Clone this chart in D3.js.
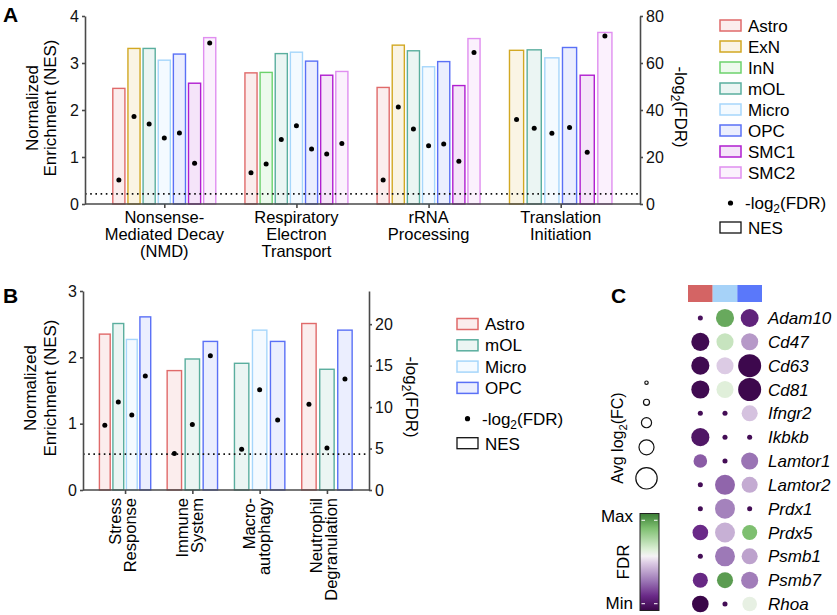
<!DOCTYPE html>
<html>
<head>
<meta charset="utf-8">
<script src="https://cdn.jsdelivr.net/npm/d3@7"></script>
<style>
  body { margin: 0; background: #fff; }
  svg { font-family: "Liberation Sans", Arial, sans-serif; }
  .axis path, .axis line { stroke: #4a4a4a; stroke-width: 1.6; }
  .axis text { font-size: 16px; fill: #111; }
</style>
</head>
<body>
<svg id="fig" width="837" height="615"></svg>
<script>
// ---- data: panel A ----
var cellsA = ["Astro", "ExN", "InN", "mOL", "Micro", "OPC", "SMC1", "SMC2"];
var pathwaysA = ["NMD", "Respiratory", "rRNA", "Translation"];
var labelsA = [["Nonsense-", "Mediated Decay", "(NMD)"], ["Respiratory", "Electron", "Transport"],
               ["rRNA", "Processing"], ["Translation", "Initiation"]];
var nmdCells = ["Astro", "ExN", "mOL", "Micro", "OPC", "SMC1", "SMC2"];
var nmdNES = [2.46, 3.31, 3.31, 3.06, 3.19, 2.57, 3.54];
var nmdFDR = [10.2, 37.2, 34.0, 28.1, 30.2, 17.3, 68.5];
var respCells = ["Astro", "InN", "mOL", "Micro", "OPC", "SMC1", "SMC2"];
var respNES = [2.79, 2.80, 3.20, 3.23, 3.04, 2.74, 2.82];
var respFDR = [13.3, 17.0, 27.5, 33.3, 23.4, 21.3, 25.7];
var rrnaCells = ["Astro", "ExN", "mOL", "Micro", "OPC", "SMC1", "SMC2"];
var rrnaNES = [2.48, 3.38, 3.26, 2.92, 3.03, 2.52, 3.52];
var rrnaFDR = [10.2, 41.3, 31.9, 24.8, 25.5, 18.2, 64.5];
var transCells = ["ExN", "mOL", "Micro", "OPC", "SMC1", "SMC2"];
var transNES = [3.27, 3.28, 3.11, 3.33, 2.74, 3.65];
var transFDR = [36.0, 32.2, 30.1, 32.6, 22.0, 71.5];
var ticksAL = [0, 1, 2, 3, 4], ticksAR = [0, 20, 40, 60, 80];

// ---- data: panel B ----
var cellsB = ["Astro", "mOL", "Micro", "OPC"];
var pathwaysB = ["Stress", "Immune", "Macro", "Neutrophil"];
var labelsB = [["Stress", "Response"], ["Immune", "System"], ["Macro-", "autophagy"], ["Neutrophil", "Degranulation"]];
var stressCells = ["Astro", "mOL", "Micro", "OPC"], stressNES = [2.35, 2.51, 2.27, 2.61], stressFDR = [7.8, 10.6, 9.05, 13.75];
var immuneCells = ["Astro", "mOL", "OPC"], immuneNES = [1.80, 1.975, 2.24], immuneFDR = [4.4, 7.9, 16.2];
var macroCells = ["mOL", "Micro", "OPC"], macroNES = [1.91, 2.41, 2.24], macroFDR = [4.9, 12.1, 8.45];
var neutroCells = ["Astro", "mOL", "OPC"], neutroNES = [2.51, 1.82, 2.41], neutroFDR = [10.35, 5.08, 13.4];
var ticksBL = [0, 1, 2, 3], ticksBR = [0, 5, 10, 15, 20];

// ---- data: panel C ----
var groupsC = ["Astro", "Micro", "OPC"];
var genesC = ["Adam10", "Cd47", "Cd63", "Cd81", "Ifngr2", "Ikbkb", "Lamtor1", "Lamtor2", "Prdx1", "Prdx5", "Psmb1", "Psmb7", "Rhoa"];
// avg log2(FC) (relative size) per gene: Astro, Micro, OPC
var fcC = [[0.10, 0.74, 0.73], [0.74, 0.69, 0.69], [0.74, 0.69, 0.98], [0.74, 0.69, 0.98], [0.10, 0.10, 0.64],
           [0.74, 0.10, 0.10], [0.52, 0.10, 0.69], [0.10, 0.83, 0.64], [0.10, 0.83, 0.10], [0.62, 0.83, 0.59],
           [0.10, 0.83, 0.64], [0.59, 0.64, 0.69], [0.67, 0.10, 0.57]];
// FDR (relative, 0 = min, 1 = max)
var fdrC = [[0.05, 0.90, 0.12], [0.02, 0.68, 0.38], [0.02, 0.49, 0.01], [0.02, 0.62, 0.01], [0.03, 0.03, 0.47],
            [0.07, 0.03, 0.03], [0.25, 0.03, 0.30], [0.03, 0.27, 0.42], [0.03, 0.33, 0.03], [0.15, 0.43, 0.85],
            [0.03, 0.31, 0.40], [0.14, 0.93, 0.32], [0.00, 0.03, 0.60]];
var sizeLegend = [0.02, 0.15, 0.35, 0.59, 0.90];

var colors = {Astro: "#e06a6a", ExN: "#d2a823", InN: "#6cd26c", mOL: "#5aae9e", Micro: "#a6d6fb",
              OPC: "#5a70f6", SMC1: "#b01ed0", SMC2: "#e08ef0"};
var groupColorsC = {Astro: "#d46464", Micro: "#a6d2f8", OPC: "#5a78fa"};

var svg = d3.select("#fig");
var fdrCut = -Math.log2(0.05);

function subLog(sel) {
  sel.append("tspan").text("-log");
  sel.append("tspan").attr("font-size", "0.7em").attr("dy", 4).text("2");
  sel.append("tspan").attr("dy", -4).text("(FDR)");
}

function barPanel(c) {
  var g = svg.append("g");
  var x = d3.scalePoint().domain(c.pathways).range([c.x0, c.x1]).padding(c.pad);
  var yL = d3.scaleLinear().domain([0, c.leftMax]).range([c.y0, c.y1]);
  var yR = d3.scaleLinear().domain([0, c.rightMax]).range([c.y0, c.y1]);

  c.sets.forEach(function(s, i) {
    var inner = d3.scaleBand().domain(s.cells).range([-c.gw / 2, c.gw / 2]).paddingInner(0.2).paddingOuter(0.1);
    var rows = s.cells.map(function(k, j) { return {cell: k, nes: s.nes[j], fdr: s.fdr[j]}; });
    var gg = g.append("g").attr("transform", "translate(" + x(c.pathways[i]) + ",0)");
    gg.selectAll("rect").data(rows).join("rect")
      .attr("x", d => inner(d.cell)).attr("width", inner.bandwidth())
      .attr("y", d => yL(d.nes)).attr("height", d => yL(0) - yL(d.nes))
      .attr("fill", d => colors[d.cell]).attr("fill-opacity", 0.12)
      .attr("stroke", d => colors[d.cell]).attr("stroke-width", 1.4);
    s.g = gg; s.rows = rows; s.inner = inner;
  });

  g.append("line").attr("x1", c.x0).attr("x2", c.x1).attr("y1", yR(fdrCut)).attr("y2", yR(fdrCut))
    .attr("stroke", "#111").attr("stroke-width", 1.6).attr("stroke-dasharray", "1.6,3.6");

  c.sets.forEach(function(s) {
    s.g.selectAll("circle").data(s.rows).join("circle")
      .attr("cx", d => s.inner(d.cell) + s.inner.bandwidth() / 2).attr("cy", d => yR(d.fdr))
      .attr("r", 2.5).attr("fill", "#000");
  });

  g.append("g").attr("class", "axis").attr("transform", "translate(" + c.x0 + ",0)")
    .call(d3.axisLeft(yL).tickValues(c.ticksL).tickFormat(d3.format("d")).tickSize(3).tickSizeOuter(0).tickPadding(3));
  g.append("g").attr("class", "axis").attr("transform", "translate(" + c.x1 + ",0)")
    .call(d3.axisRight(yR).tickValues(c.ticksR).tickFormat(d3.format("d")).tickSize(3).tickSizeOuter(0).tickPadding(3));
  g.append("g").attr("class", "axis").attr("transform", "translate(0," + c.y0 + ")")
    .call(d3.axisBottom(x).tickSize(4).tickSizeOuter(0).tickFormat(""))
    .select(".domain").attr("d", "M" + c.x0 + ",0H" + c.x1);

  // category labels
  c.labels.forEach(function(lines, i) {
    var cx = x(c.pathways[i]);
    var t;
    if (c.rotate) {
      t = g.append("text").attr("transform", "translate(" + cx + "," + (c.y0 + 8) + ") rotate(-90)")
        .attr("text-anchor", "end").attr("font-size", 16.5);
      lines.forEach(function(l, k) { t.append("tspan").attr("x", 0).attr("y", -4.5 + k * 15).text(l); });
    } else {
      t = g.append("text").attr("text-anchor", "middle").attr("font-size", 16.5);
      lines.forEach(function(l, k) { t.append("tspan").attr("x", cx).attr("y", c.y0 + 19 + k * 17).text(l); });
    }
  });

  // axis titles
  var tl = g.append("text").attr("text-anchor", "middle").attr("font-size", 17)
    .attr("transform", "translate(0," + c.titleY + ") rotate(-90)");
  tl.append("tspan").attr("x", 0).attr("y", c.titleLX[0]).text("Normalized");
  tl.append("tspan").attr("x", 0).attr("y", c.titleLX[1]).text("Enrichment (NES)");
  var tr = g.append("text").attr("text-anchor", "middle").attr("font-size", 17)
    .attr("transform", "translate(" + c.titleRX + "," + c.titleRY + ") rotate(90)");
  subLog(tr);

  // legend
  var lg = g.append("g").attr("transform", "translate(" + c.legX + "," + c.legY + ")");
  c.legCells.forEach(function(k, i) {
    lg.append("rect").attr("x", 0).attr("y", i * c.legStep).attr("width", 21).attr("height", 11)
      .attr("fill", colors[k]).attr("fill-opacity", 0.12).attr("stroke", colors[k]).attr("stroke-width", 1.5);
    lg.append("text").attr("x", 28).attr("y", i * c.legStep + 11.5).attr("font-size", 17).text(k);
  });
  var dy = c.legCells.length * c.legStep + 15;
  lg.append("circle").attr("cx", 10.5).attr("cy", dy).attr("r", 2.6).attr("fill", "#000");
  subLog(lg.append("text").attr("x", 25).attr("y", dy + 6).attr("font-size", 17));
  lg.append("rect").attr("x", 0).attr("y", dy + 19).attr("width", 21).attr("height", 11)
    .attr("fill", "none").attr("stroke", "#111").attr("stroke-width", 1.3);
  lg.append("text").attr("x", 28).attr("y", dy + 31).attr("font-size", 17).text("NES");
}

barPanel({
  pathways: pathwaysA, labels: labelsA, rotate: false,
  sets: [{cells: nmdCells, nes: nmdNES, fdr: nmdFDR}, {cells: respCells, nes: respNES, fdr: respFDR},
         {cells: rrnaCells, nes: rrnaNES, fdr: rrnaFDR}, {cells: transCells, nes: transNES, fdr: transFDR}],
  x0: 85, x1: 640, pad: 0.6, gw: 106, y0: 204, y1: 16, leftMax: 4, rightMax: 80,
  ticksL: ticksAL, ticksR: ticksAR, titleY: 108, titleLX: [38, 56], titleRX: 675, titleRY: 107,
  legX: 720, legY: 20, legStep: 21, legCells: cellsA
});

barPanel({
  pathways: pathwaysB, labels: labelsB, rotate: true,
  sets: [{cells: stressCells, nes: stressNES, fdr: stressFDR}, {cells: immuneCells, nes: immuneNES, fdr: immuneFDR},
         {cells: macroCells, nes: macroNES, fdr: macroFDR}, {cells: neutroCells, nes: neutroNES, fdr: neutroFDR}],
  x0: 83, x1: 369, pad: 0.625, gw: 54, y0: 490, y1: 291, leftMax: 3, rightMax: 24,
  ticksL: ticksBL, ticksR: ticksBR, titleY: 388, titleLX: [36, 56], titleRX: 406, titleRY: 397,
  legX: 457, legY: 318.5, legStep: 21.3, legCells: cellsB
});

// ---- panel C: dot plot ----
var colC = d3.scaleBand().domain(groupsC).range([688, 762]);
var rowC = d3.scalePoint().domain(genesC).range([318, 604]);
var rC = d3.scaleLinear().domain([0, 1]).range([1.5, 11.7]);
var fdrStops = [0, 0.15, 0.3, 0.49, 0.56, 0.63, 0.85, 1];
var fdrCols = ["#3a0649", "#6a2a88", "#9a74b4", "#dccbe4", "#f5f2f5", "#dcefd6", "#7ebf70", "#3c7e36"];
var cC = d3.scaleLinear().domain(fdrStops).range(fdrCols);

var gc = svg.append("g");
gc.selectAll("rect.grp").data(groupsC).join("rect").attr("class", "grp")
  .attr("x", d => colC(d)).attr("y", 285).attr("width", colC.bandwidth()).attr("height", 17)
  .attr("fill", d => groupColorsC[d]);

var dots = [];
genesC.forEach(function(gn, i) {
  groupsC.forEach(function(gr, j) { dots.push({gene: gn, group: gr, fc: fcC[i][j], q: fdrC[i][j]}); });
});
gc.selectAll("circle.dot").data(dots).join("circle").attr("class", "dot")
  .attr("cx", d => colC(d.group) + colC.bandwidth() / 2).attr("cy", d => rowC(d.gene))
  .attr("r", d => rC(d.fc)).attr("fill", d => cC(d.q));
gc.selectAll("text.gene").data(genesC).join("text").attr("class", "gene")
  .attr("x", 768).attr("y", d => rowC(d) + 6).attr("font-size", 17).attr("font-style", "italic").text(d => d);

// size legend
var sizeY = [382.7, 402.3, 422.7, 447.3, 478.3];
gc.selectAll("circle.sz").data(sizeLegend).join("circle").attr("class", "sz")
  .attr("cx", 646.5).attr("cy", (d, i) => sizeY[i]).attr("r", d => rC(d))
  .attr("fill", "none").attr("stroke", "#111").attr("stroke-width", 1.2);
var st = gc.append("text").attr("text-anchor", "middle").attr("font-size", 16)
  .attr("transform", "translate(623,438) rotate(-90)");
st.append("tspan").text("Avg log");
st.append("tspan").attr("font-size", "0.7em").attr("dy", 4).text("2");
st.append("tspan").attr("dy", -4).text("(FC)");

// colour bar
var grad = svg.append("defs").append("linearGradient").attr("id", "fdrGrad")
  .attr("x1", 0).attr("y1", 1).attr("x2", 0).attr("y2", 0);
grad.selectAll("stop").data(fdrStops).join("stop")
  .attr("offset", d => d).attr("stop-color", (d, i) => fdrCols[i]);
var cbY = d3.scaleLinear().domain([0, 1]).range([610.5, 513.5]);
gc.append("rect").attr("x", 640).attr("y", cbY(1)).attr("width", 19).attr("height", cbY(0) - cbY(1))
  .attr("fill", "url(#fdrGrad)").attr("stroke", "#222").attr("stroke-width", 1);
[0.07, 0.93].forEach(function(v) {
  [641.5, 654].forEach(function(xx) {
    gc.append("line").attr("x1", xx).attr("x2", xx + 3.5).attr("y1", cbY(v)).attr("y2", cbY(v))
      .attr("stroke", "#fff").attr("stroke-width", 1);
  });
});
gc.append("text").attr("x", 633).attr("y", 522).attr("text-anchor", "end").attr("font-size", 17).text("Max");
gc.append("text").attr("x", 633).attr("y", 609).attr("text-anchor", "end").attr("font-size", 17).text("Min");
gc.append("text").attr("text-anchor", "middle").attr("font-size", 17)
  .attr("transform", "translate(629,562) rotate(-90)").text("FDR");

// panel letters
[["A", 3, 22], ["B", 3, 303], ["C", 611, 303]].forEach(function(p) {
  svg.append("text").attr("x", p[1]).attr("y", p[2]).attr("font-size", 21).attr("font-weight", "bold").text(p[0]);
});
</script>
</body>
</html>
